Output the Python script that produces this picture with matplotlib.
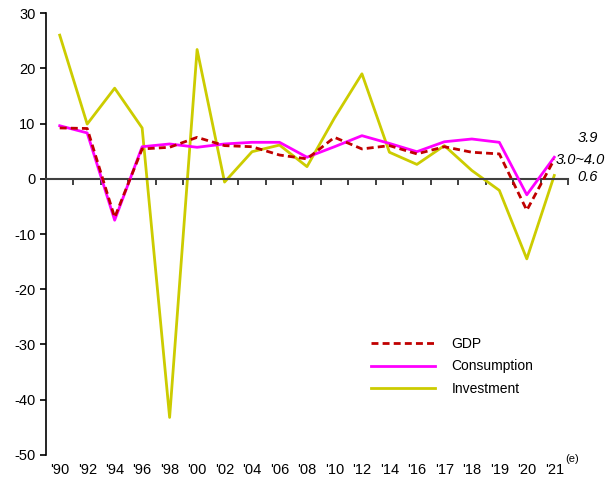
import matplotlib
matplotlib.use("Agg")
import matplotlib.pyplot as plt
import numpy as np

plt.rcParams['font.family'] = ['Liberation Sans', 'DejaVu Sans']
plt.rcParams['axes.unicode_minus'] = False

years = ["'90", "'92", "'94", "'96", "'98", "'00", "'02", "'04", "'06", "'08",
         "'10", "'12", "'14", "'16", "'17", "'18", "'19", "'20", "'21"]

gdp = [9.2, 9.1, -7.0, 5.4, 5.7, 7.5, 6.0, 5.8, 4.3, 3.6,
       7.5, 5.4, 6.0, 4.5, 5.8, 4.8, 4.5, -5.7, 3.5]
consumption = [9.6, 8.3, -7.5, 5.8, 6.3, 5.7, 6.3, 6.6, 6.6, 3.9,
               5.8, 7.8, 6.4, 4.9, 6.7, 7.2, 6.6, -2.9, 3.9]
investment = [26.0, 9.9, 16.4, 9.2, -43.2, 23.4, -0.6, 4.9, 6.1, 2.2,
              11.0, 19.0, 4.8, 2.6, 6.0, 1.5, -2.1, -14.5, 0.6]

end_labels = ['3.9', '3.0~4.0', '0.6']

x = np.arange(len(years))

fig = plt.figure(figsize=(6.13, 4.83), dpi=100)
ax = fig.add_axes([0.075, 0.058, 0.8516, 0.915])

ax.plot(x, gdp, color='#C00000', lw=2, ls=(0, (2.5, 1.5)), label='GDP', zorder=4)
ax.plot(x, consumption, color='#FF00FF', lw=2, label='Consumption', zorder=3)
ax.plot(x, investment, color='#CCCC00', lw=2, label='Investment', zorder=2)

ax.set_xlim(-0.5, len(years) - 0.5)
ax.set_ylim(-50, 30)
ax.set_yticks(np.arange(-50, 31, 10))
ax.tick_params(axis='y', direction='out', length=4, width=1.2, labelsize=10.5, colors='black')

# x-axis line at zero with ticks between categories
ax.spines['bottom'].set_position(('data', 0))
ax.spines['bottom'].set_color('#404040')
ax.spines['bottom'].set_linewidth(1.5)
ax.spines['top'].set_visible(False)
ax.spines['right'].set_visible(False)
ax.spines['left'].set_linewidth(1.2)
ax.set_xticks(x)
ax.set_xticklabels([])
ax.tick_params(axis='x', which='major', length=0)
ax.set_xticks(np.arange(0.5, len(years), 1), minor=True)
ax.tick_params(axis='x', which='minor', direction='out', length=4, width=1.2, color='#202020')

sec = ax.secondary_xaxis(0)
sec.set_xticks(x)
sec.set_xticklabels(years)
sec.tick_params(length=0, labelsize=10.5, pad=6)
sec.spines['bottom'].set_visible(False)

# "(e)" superscript after the last year label
ax.annotate('(e)', xy=(x[-1], 0), xycoords=('data', 'axes fraction'),
            xytext=(8, -3), textcoords='offset points', fontsize=8, va='center', ha='left',
            annotation_clip=False)

# end-of-line value labels
ax.text(18.84, 7.4, end_labels[0], fontsize=10.5, style='italic', va='center', ha='left', clip_on=False)
ax.text(18.05, 3.4, end_labels[1], fontsize=10.5, style='italic', va='center', ha='left', clip_on=False)
ax.text(18.84, 0.3, end_labels[2], fontsize=10.5, style='italic', va='center', ha='left', clip_on=False)

ax.legend(loc='upper left', bbox_to_anchor=(0.585, 0.328), bbox_transform=fig.transFigure,
          frameon=False, fontsize=10, handlelength=4.6, handletextpad=1.2, labelspacing=0.6)

fig.savefig('out.png', dpi=100)
